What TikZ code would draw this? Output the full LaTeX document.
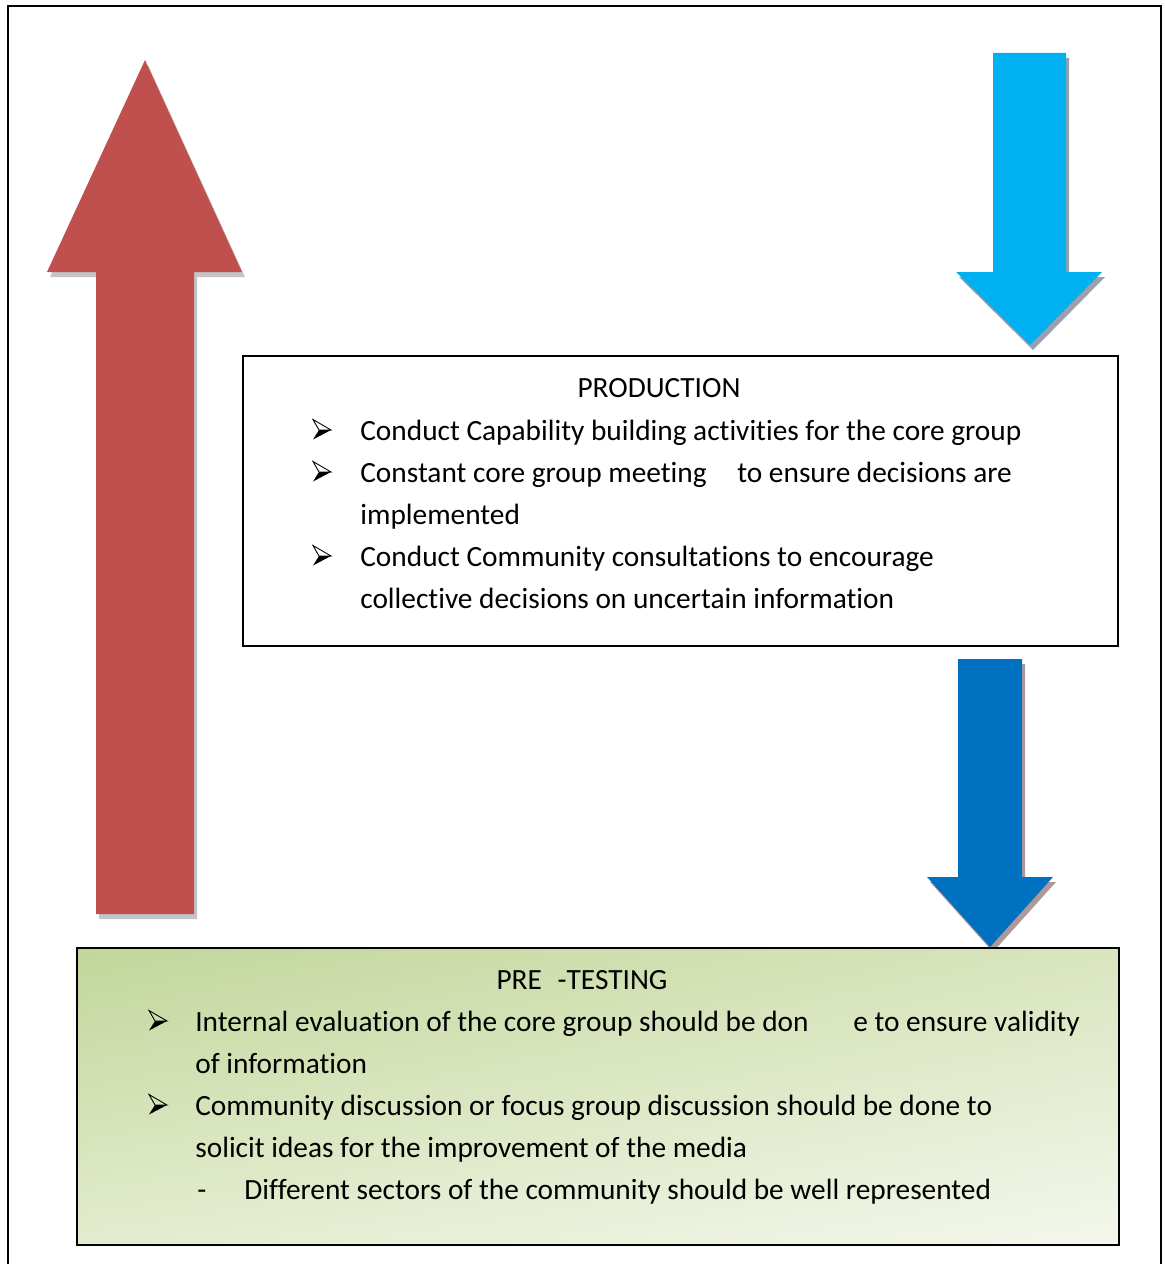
\documentclass[tikz,border=0pt]{standalone}
\usepackage{fontspec}
\setmainfont{Carlito}[Ligatures=NoCommon]
\usetikzlibrary{shadings}

\definecolor{upred}{HTML}{C0504D}
\definecolor{redshade}{HTML}{C4C4C4}
\definecolor{skyblue}{HTML}{00B0F0}
\definecolor{skyshade}{HTML}{98A2AE}
\definecolor{deepblue}{HTML}{0070C0}
\definecolor{deepshade}{HTML}{AE9898}
\definecolor{greenA}{HTML}{C2D69A}
\definecolor{greenB}{HTML}{D9E5BE}
\definecolor{greenC}{HTML}{E3ECCE}
\definecolor{greenD}{HTML}{F3F7EC}

\begin{document}
\begin{tikzpicture}[x=0.02cm, y=-0.02cm,
    txt/.style={anchor=base west, inner sep=0pt, font=\fontsize{16.7}{20}\selectfont},
    head/.style={anchor=base, inner sep=0pt, font=\fontsize{16.7}{20}\selectfont}]
      \useasboundingbox (0,0) rectangle (1164,1264);

      % outer frame
      \draw[line width=1.5pt] (8,6) -- (1161,6) -- (1161,1280) -- (8,1280) -- cycle;

      % red arrow up
      \fill[redshade, shift={(3,5)}] (96,914) -- (96,272) -- (47,272) -- (145,60) -- (242,272) -- (194,272) -- (194,914) -- cycle;
      \fill[upred] (96,914) -- (96,272) -- (47,272) -- (145,60) -- (242,272) -- (194,272) -- (194,914) -- cycle;

      % light blue arrow down
      \fill[skyshade, shift={(3,5)}] (993,53) -- (1066,53) -- (1066,272) -- (1102,272) -- (1030,345) -- (956,272) -- (993,272) -- cycle;
      \fill[skyblue] (993,53) -- (1066,53) -- (1066,272) -- (1102,272) -- (1030,345) -- (956,272) -- (993,272) -- cycle;

      % dark blue arrow down
      \fill[deepshade, shift={(3,5)}] (958,659) -- (1022,659) -- (1022,877) -- (1053,877) -- (990,947) -- (927,877) -- (958,877) -- cycle;
      \fill[deepblue] (958,659) -- (1022,659) -- (1022,877) -- (1053,877) -- (990,947) -- (927,877) -- (958,877) -- cycle;

      % production box
      \draw[line width=0.8pt, fill=white] (243,356) rectangle (1118,646);
      \node[head](prod) at (659,397){PRODUCTION};
      \node[txt](p1) at (360,440){Conduct Capability building activities for the core group};
      \node[txt](p2) at (360,482){Constant core group meeting\hspace{17.5pt}to ensure decisions are};
      \node[txt](p3) at (360,524){implemented};
      \node[txt](p4) at (360,566){Conduct Community consultations to encourage};
      \node[txt](p5) at (360,608){collective decisions on uncertain information};

      % pre-testing box
      \shade[upper left=greenA, upper right=greenB, lower left=greenC, lower right=greenD] (77,948) rectangle (1119,1245);
      \draw[line width=0.8pt] (77,948) rectangle (1119,1245);
      \node[head](pre) at (582,989){PRE\hspace{9pt}-TESTING};
      \node[txt](t1) at (195,1031){Internal evaluation of the core group should be don\hspace{25.5pt}e to ensure validity};
      \node[txt](t2) at (195,1073){of information};
      \node[txt](t3) at (195,1115){Community discussion or focus group discussion should be done to};
      \node[txt](t4) at (195,1157){solicit ideas for the improvement of the media};
      \node[txt](t5) at (197,1199){-};
      \node[txt](t6) at (244,1199){Different sectors of the community should be well represented};

      % arrowhead bullets
      \foreach \x/\y in {313/440,313/482,313/566,149/1031,149/1115} {
        \draw[line width=0.5pt, line join=miter] (\x,\y-20.5) -- (\x+18,\y-10) -- (\x+6,\y-10) -- cycle;
        \fill (\x,\y-0.5) -- (\x+18,\y-10) -- (\x+6,\y-10) -- cycle;
      }
\end{tikzpicture}
\end{document}
